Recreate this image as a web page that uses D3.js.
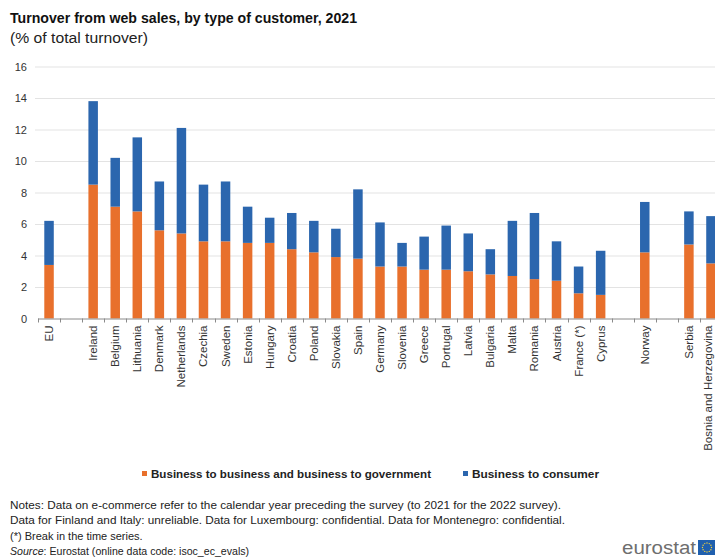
<!DOCTYPE html>
<html>
<head>
<meta charset="utf-8">
<script src="https://cdn.jsdelivr.net/npm/d3@7/dist/d3.min.js"></script>
<style>
  html, body { margin: 0; padding: 0; background: #fff; }
  svg { display: block; font-family: "Liberation Sans", Arial, sans-serif; }
</style>
</head>
<body>
<svg id="chart" width="715" height="559"></svg>
<script>
// Countries in display order; empty strings are spacer slots between groups
const categories = ["EU", "", "Ireland", "Belgium", "Lithuania", "Denmark", "Netherlands",
  "Czechia", "Sweden", "Estonia", "Hungary", "Croatia", "Poland", "Slovakia", "Spain",
  "Germany", "Slovenia", "Greece", "Portugal", "Latvia", "Bulgaria", "Malta", "Romania",
  "Austria", "France (*)", "Cyprus", "", "Norway", "", "Serbia", "Bosnia and Herzegovina"];

// Business to business and business to government (% of total turnover)
const b2bValues = [3.4, null, 8.5, 7.1, 6.8, 5.6, 5.4, 4.9, 4.9, 4.8, 4.8, 4.4, 4.2, 3.9, 3.8,
  3.3, 3.3, 3.1, 3.1, 3.0, 2.8, 2.7, 2.5, 2.4, 1.6, 1.5, null, 4.2, null, 4.7, 3.5];

// Business to consumer (% of total turnover)
const b2cValues = [2.8, null, 5.3, 3.1, 4.7, 3.1, 6.7, 3.6, 3.8, 2.3, 1.6, 2.3, 2.0, 1.8, 4.4,
  2.8, 1.5, 2.1, 2.8, 2.4, 1.6, 3.5, 4.2, 2.5, 1.7, 2.8, null, 3.2, null, 2.1, 3.0];

const yTicks = [0, 2, 4, 6, 8, 10, 12, 14, 16];

const seriesNames = ["Business to business and business to government", "Business to consumer"];
const seriesColors = ["#E8702C", "#2B66AE"];

const noteLines = [
  "Notes: Data on e-commerce refer to the calendar year preceding the survey (to 2021 for the 2022 survey).",
  "Data for Finland  and Italy: unreliable. Data for Luxembourg:  confidential.  Data for Montenegro: confidential.",
  "(*) Break in the time series."
];

const svg = d3.select("#chart");
const W = 715, H = 559;
svg.append("rect").attr("width", W).attr("height", H).attr("fill", "#fff");

// Title block
svg.append("text").attr("x", 10).attr("y", 23)
  .attr("font-size", 15).attr("font-weight", "bold").attr("fill", "#111")
  .attr("textLength", 347).attr("lengthAdjust", "spacingAndGlyphs")
  .text("Turnover from web sales, by type of customer, 2021");
svg.append("text").attr("x", 10).attr("y", 43)
  .attr("font-size", 14).attr("fill", "#222")
  .attr("textLength", 138).attr("lengthAdjust", "spacingAndGlyphs")
  .text("(% of total turnover)");

// Scales
const plotLeft = 38, plotRight = 722, plotTop = 66.5, plotBottom = 318.5;
const keys = categories.map((c, i) => "k" + i);
const x = d3.scaleBand().domain(keys).range([plotLeft, plotRight])
  .paddingInner(0.57).paddingOuter(0.285);
const y = d3.scaleLinear().domain([0, 16]).range([plotBottom, plotTop]);

// Gridlines and y labels
const yAxis = d3.axisLeft(y).tickValues(yTicks).tickSize(0).tickPadding(0);
const gy = svg.append("g").attr("transform", `translate(${plotLeft},0)`).call(yAxis);
gy.select(".domain").remove();
gy.selectAll(".tick text").attr("x", -11).attr("font-size", 11)
  .attr("font-family", "Liberation Sans, Arial, sans-serif").attr("fill", "#333");
gy.selectAll(".tick").filter(d => d !== 0).append("line")
  .attr("x1", -3).attr("x2", W - plotLeft)
  .attr("stroke", "#e3e3e3").attr("stroke-width", 1);

// Stacked bars
const rows = categories.map((c, i) => ({ key: keys[i], b2b: b2bValues[i], b2c: b2cValues[i] }))
  .filter(r => r.b2b !== null);
const stack = d3.stack().keys(["b2b", "b2c"]);
const layers = stack(rows);

svg.append("g").selectAll("g").data(layers).join("g")
  .attr("fill", (d, i) => seriesColors[i])
  .selectAll("rect").data(d => d).join("rect")
  .attr("x", d => x(d.data.key))
  .attr("width", x.bandwidth())
  .attr("y", d => y(d[1]))
  .attr("height", d => y(d[0]) - y(d[1]));

// X axis line, boundary ticks and rotated labels
const step = x.step();
const gx = svg.append("g");
gx.append("line").attr("x1", plotLeft).attr("x2", W)
  .attr("y1", plotBottom + 0.5).attr("y2", plotBottom + 0.5)
  .attr("stroke", "#8a8a8a").attr("stroke-width", 1);
const boundaries = d3.range(keys.length + 1).map(i => plotLeft + i * step);
gx.selectAll("line.tick").data(boundaries).join("line").attr("class", "tick")
  .attr("x1", d => Math.round(d) + 0.5).attr("x2", d => Math.round(d) + 0.5)
  .attr("y1", plotBottom).attr("y2", plotBottom + 4)
  .attr("stroke", "#8a8a8a");
gx.selectAll("text").data(categories.map((c, i) => ({ c, k: keys[i] })).filter(d => d.c))
  .join("text")
  .attr("transform", d => `translate(${Math.min(x(d.k) + x.bandwidth() / 2 + 4, 712)},${plotBottom + 7}) rotate(-90)`)
  .attr("text-anchor", "end").attr("font-size", 11.5).attr("fill", "#333")
  .text(d => d.c);

// Legend
const legend = [
  { name: seriesNames[0], color: seriesColors[0], x: 142, w: 280 },
  { name: seriesNames[1], color: seriesColors[1], x: 463, w: 127 }
];
const lg = svg.append("g");
lg.selectAll("rect").data(legend).join("rect")
  .attr("x", d => d.x).attr("y", 471).attr("width", 5).attr("height", 5)
  .attr("fill", d => d.color);
lg.selectAll("text").data(legend).join("text")
  .attr("x", d => d.x + 9).attr("y", 478)
  .attr("font-size", 11.5).attr("font-weight", "bold").attr("fill", "#222")
  .attr("textLength", d => d.w).attr("lengthAdjust", "spacingAndGlyphs")
  .text(d => d.name);

// Notes
const noteWidths = [551, 555, null];
const noteY = [509, 524, 540];
svg.append("g").selectAll("text").data(noteLines).join("text")
  .attr("x", 10).attr("y", (d, i) => noteY[i])
  .attr("font-size", 11).attr("fill", "#222")
  .attr("textLength", (d, i) => noteWidths[i])
  .attr("lengthAdjust", (d, i) => noteWidths[i] ? "spacingAndGlyphs" : null)
  .text(d => d);
const src = svg.append("text").attr("x", 10).attr("y", 555)
  .attr("font-size", 10.6).attr("fill", "#222");
src.append("tspan").attr("font-style", "italic").text("Source");
src.append("tspan").text(": Eurostat (online data code: isoc_ec_evals)");

// Eurostat logo
svg.append("text").attr("x", 622).attr("y", 554)
  .attr("font-size", 18).attr("fill", "#6e6e6e")
  .attr("textLength", 74).attr("lengthAdjust", "spacingAndGlyphs")
  .text("eurostat");
svg.append("rect").attr("x", 698).attr("y", 540).attr("width", 17).attr("height", 15)
  .attr("fill", "#1f5fae");
const stars = d3.range(12).map(i => i * Math.PI / 6);
svg.append("g").selectAll("circle").data(stars).join("circle")
  .attr("cx", a => 707 + 4.5 * Math.cos(a)).attr("cy", a => 547.5 + 4.5 * Math.sin(a))
  .attr("r", 0.7).attr("fill", "#f4d23c");
</script>
</body>
</html>
